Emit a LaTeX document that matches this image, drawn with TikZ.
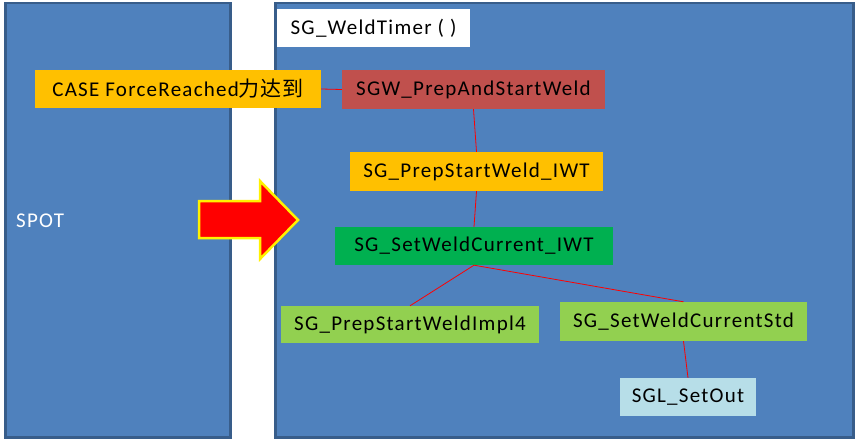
\documentclass[tikz,border=0pt]{standalone}
\usepackage{fontspec}
\setmainfont{Carlito}[LetterSpace=6]
\newfontfamily\cjk{Noto Sans CJK SC}[LetterSpace=4]
\usepackage{tikz}
\usetikzlibrary{positioning}
\definecolor{PanelBlue}{RGB}{79,129,189}
\definecolor{PanelEdge}{RGB}{56,93,138}
\definecolor{CaseOrange}{RGB}{255,192,0}
\definecolor{WeldRed}{RGB}{192,80,77}
\definecolor{IwtGreen}{RGB}{0,176,80}
\definecolor{StdGreen}{RGB}{146,208,80}
\definecolor{OutBlue}{RGB}{183,222,232}

\begin{document}
\begin{tikzpicture}[x=1pt,y=-1pt,font=\fontsize{21}{25}\selectfont,
    panel/.style={fill=PanelBlue,draw=PanelEdge,line width=2.5pt},
    fbox/.style={inner sep=0pt,minimum height=38pt,text=black},
    link/.style={red,line width=0.8pt}]
  \useasboundingbox (0,0) rectangle (856,441);
  % the two panels
  \draw[panel] (5.5,3) rectangle (230.5,437.5);
  \draw[panel] (275.5,3) rectangle (853.5,437.5);
  \node[white,inner sep=0pt,anchor=west] (spot) at (16,221) {SPOT};

  % arrow between the panels
  \draw[fill=red,draw=yellow,line width=2.5pt,line join=miter]
    (199,201) -- (260,201) -- (260,181) -- (298,220) -- (260,259)
    -- (260,238) -- (199,238) -- cycle;

  % call tree
  \node[fbox,fill=white,minimum width=193pt] (timer) at (373.5,28) {SG\_WeldTimer ( )};
  \node[fbox,fill=CaseOrange,minimum width=286pt] (case) at (178,89) {CASE ForceReached{\cjk 力达到}};
  \node[fbox,fill=WeldRed,minimum width=263pt,minimum height=39pt] (prepAndStart) at (473.5,89.5) {SGW\_PrepAndStartWeld};
  \node[fbox,fill=CaseOrange,minimum width=253pt,minimum height=39pt] (prepIwt) at (476.5,171.5) {SG\_PrepStartWeld\_IWT};
  \node[fbox,fill=IwtGreen,minimum width=278pt] (setIwt) at (474,246) {SG\_SetWeldCurrent\_IWT};
  \node[fbox,fill=StdGreen,minimum width=258pt,minimum height=37pt] (prepImpl) at (410,324.5) {SG\_PrepStartWeldImpl4};
  \node[fbox,fill=StdGreen,minimum width=247pt,minimum height=39pt] (setStd) at (683.5,321.5) {SG\_SetWeldCurrentStd};
  \node[fbox,fill=OutBlue,minimum width=136pt] (setOut) at (688,397) {SGL\_SetOut};

  \draw[link] (case.east) -- (prepAndStart.west);
  \draw[link] (prepAndStart.south) -- (prepIwt.north);
  \draw[link] (prepIwt.south) -- (setIwt.north);
  \draw[link] (setIwt.south) -- (prepImpl.north);
  \draw[link] (setIwt.south) -- (setStd.north);
  \draw[link] (setStd.south) -- (setOut.north);
\end{tikzpicture}
\end{document}
